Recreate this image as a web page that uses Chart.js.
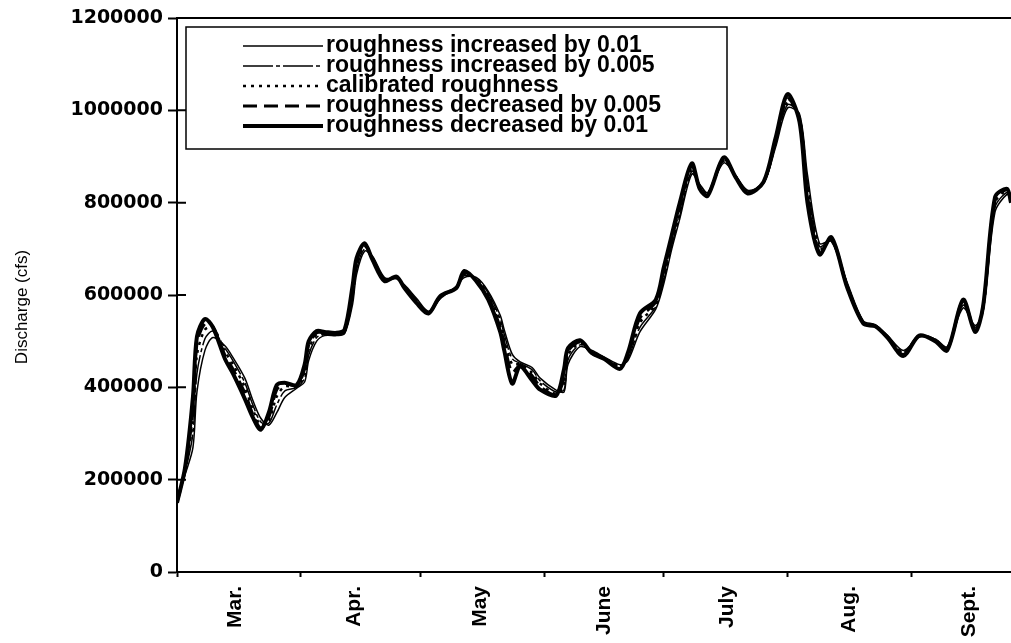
<!DOCTYPE html>
<html>
<head>
<meta charset="utf-8">
<script src="https://cdn.jsdelivr.net/npm/chart.js@4.4.0/dist/chart.umd.min.js"></script>
<style>
  html, body { margin: 0; padding: 0; background: #fff; }
</style>
</head>
<body>
<canvas id="chart" width="1011" height="643"></canvas>
<script>
// days counted from March 1
const days = [0, 2, 4, 5, 7, 9, 12, 14, 17, 19,
  21, 23, 25, 27, 30, 32, 33, 35, 37, 40,
  42, 44, 45, 47, 49, 52, 55, 57, 60, 63,
  66, 70, 72, 75, 78, 81, 82, 84, 86, 89,
  91, 95, 97, 98, 101, 104, 107, 111, 113, 116,
  120, 122, 124, 126, 129, 131, 133, 137, 140, 143,
  147, 150, 153, 156, 158, 161, 164, 168, 172, 175,
  178, 182, 186, 190, 193, 197, 200, 202, 205, 208,
  209];

const incr01 = [150000, 210000, 270000, 390000, 480000, 508000, 490000, 465000, 420000, 372000,
  333000, 318000, 345000, 378000, 398000, 412000, 458000, 500000, 512000, 512000,
  516000, 580000, 645000, 695000, 684000, 638000, 635000, 622000, 593000, 565000,
  592000, 619000, 638000, 638000, 608000, 556000, 525000, 472000, 455000, 443000,
  420000, 394000, 390000, 450000, 488000, 480000, 466000, 449000, 458000, 520000,
  570000, 625000, 700000, 765000, 862000, 840000, 822000, 886000, 859000, 827000,
  842000, 920000, 1005000, 992000, 860000, 712000, 716000, 626000, 544000, 536000,
  513000, 480000, 509000, 505000, 488000, 572000, 534000, 564000, 780000, 818000,
  808000];

const incr005 = [150000, 215000, 300000, 430000, 505000, 522000, 485000, 458000, 410000, 362000,
  325000, 322000, 362000, 392000, 400000, 420000, 470000, 508000, 514000, 514000,
  518000, 590000, 655000, 700000, 682000, 636000, 636000, 620000, 590000, 563000,
  594000, 618000, 642000, 636000, 604000, 548000, 515000, 462000, 452000, 438000,
  414000, 390000, 395000, 460000, 492000, 478000, 465000, 447000, 462000, 530000,
  575000, 632000, 708000, 772000, 868000, 838000, 820000, 890000, 858000, 825000,
  843000, 925000, 1012000, 990000, 845000, 705000, 718000, 623000, 542000, 535000,
  512000, 477000, 510000, 504000, 486000, 578000, 530000, 568000, 790000, 822000,
  805000];

const calibrated = [150000, 220000, 330000, 470000, 525000, 530000, 478000, 450000, 400000, 352000,
  318000, 328000, 380000, 402000, 402000, 430000, 482000, 514000, 516000, 515000,
  520000, 600000, 665000, 705000, 680000, 634000, 637000, 618000, 587000, 562000,
  596000, 617000, 645000, 634000, 600000, 540000, 505000, 450000, 450000, 432000,
  408000, 386000, 405000, 470000, 495000, 476000, 464000, 445000, 466000, 540000,
  580000, 640000, 715000, 780000, 875000, 835000, 818000, 893000, 857000, 823000,
  844000, 930000, 1018000, 985000, 830000, 698000, 720000, 620000, 540000, 534000,
  510000, 474000, 511000, 503000, 484000, 584000, 526000, 572000, 800000, 826000,
  802000];

const decr005 = [150000, 222000, 350000, 495000, 538000, 532000, 470000, 440000, 388000, 342000,
  312000, 335000, 395000, 408000, 404000, 440000, 492000, 518000, 518000, 516000,
  522000, 610000, 672000, 708000, 678000, 632000, 638000, 617000, 585000, 561000,
  597000, 616000, 648000, 632000, 596000, 530000, 495000, 432000, 448000, 425000,
  402000, 384000, 420000, 478000, 498000, 474000, 463000, 443000, 470000, 550000,
  585000, 650000, 722000, 790000, 880000, 832000, 817000, 896000, 856000, 822000,
  845000, 935000, 1025000, 980000, 815000, 692000, 723000, 617000, 539000, 533000,
  509000, 471000, 512000, 502000, 482000, 588000, 523000, 574000, 806000, 828000,
  800000];

const decr01 = [150000, 225000, 380000, 510000, 548000, 530000, 462000, 430000, 375000, 335000,
  308000, 345000, 405000, 410000, 405000, 450000, 500000, 522000, 520000, 518000,
  525000, 620000, 680000, 712000, 676000, 630000, 640000, 615000, 583000, 560000,
  598000, 615000, 652000, 630000, 590000, 520000, 480000, 408000, 445000, 415000,
  395000, 382000, 440000, 485000, 502000, 474000, 462000, 440000, 475000, 560000,
  590000, 660000, 730000, 800000, 885000, 830000, 815000, 898000, 855000, 820000,
  845000, 940000, 1035000, 975000, 800000, 688000, 725000, 615000, 538000, 532000,
  508000, 468000, 512000, 500000, 480000, 590000, 520000, 575000, 812000, 830000,
  800000];

const months = ["Mar.", "Apr.", "May", "June", "July", "Aug.", "Sept."];
const monthStarts = [0, 31, 61, 92, 122, 153, 184];
const monthLabelAt = [14.5, 44.5, 76, 107, 138, 168.5, 198.5];

const yTicks = [0, 200000, 400000, 600000, 800000, 1000000, 1200000];

function series(label, values, width, dash) {
  return {
    label: label,
    data: days.map((d, i) => ({ x: d, y: values[i] })),
    borderColor: "#000",
    borderWidth: width,
    borderDash: dash,
    pointRadius: 0,
    tension: 0.3,
    fill: false,
  };
}

const frame = {
  id: "frame",
  afterDraw(chart) {
    const ctx = chart.ctx;
    const a = chart.chartArea;
    const y = chart.scales.y;
    ctx.save();
    ctx.strokeStyle = "#000";
    ctx.lineWidth = 2;
    ctx.beginPath();
    ctx.moveTo(a.left, a.top);
    ctx.lineTo(a.right, a.top);
    // y ticks cross the axis
    yTicks.forEach((v) => {
      const py = y.getPixelForValue(v);
      ctx.moveTo(a.left, py);
      ctx.lineTo(a.left + 9, py);
    });
    ctx.stroke();

    // y title
    ctx.save();
    ctx.translate(22, 307);
    ctx.rotate(-Math.PI / 2);
    ctx.font = "17px 'Liberation Sans'";
    ctx.fillStyle = "#000";
    ctx.textAlign = "center";
    ctx.textBaseline = "middle";
    ctx.fillText("Discharge (cfs)", 0, 0);
    ctx.restore();

    // legend box
    ctx.lineWidth = 1.5;
    ctx.strokeRect(186, 27, 541, 122);
    ctx.font = "bold 23px 'Liberation Sans'";
    ctx.fillStyle = "#000";
    ctx.textBaseline = "middle";
    chart.data.datasets.forEach((ds, i) => {
      const ly = 46 + i * 20;
      ctx.beginPath();
      ctx.setLineDash(ds.borderDash || []);
      ctx.lineWidth = ds.borderWidth;
      ctx.moveTo(243, ly);
      ctx.lineTo(323, ly);
      ctx.stroke();
      ctx.setLineDash([]);
      ctx.fillText(ds.label, 326, ly);
    });
    ctx.restore();
  },
};

new Chart(document.getElementById("chart"), {
  type: "line",
  data: {
    datasets: [
      series("roughness increased by 0.01", incr01, 1.5, []),
      series("roughness increased by 0.005", incr005, 1.5, [30, 3, 4, 3]),
      series("calibrated roughness", calibrated, 2.5, [3, 5]),
      series("roughness decreased by 0.005", decr005, 3, [14, 7]),
      series("roughness decreased by 0.01", decr01, 4, []),
    ],
  },
  options: {
    responsive: false,
    devicePixelRatio: 1,
    animation: false,
    layout: { padding: { top: 18, right: 0, left: 0, bottom: 0 } },
    plugins: {
      legend: { display: false },
      tooltip: { enabled: false },
    },
    scales: {
      x: {
        type: "linear",
        min: 0,
        max: 209,
        afterBuildTicks: (ax) => {
          ax.ticks = monthStarts.concat(monthLabelAt).map((v) => ({ value: v }));
        },
        afterFit: (s) => { s.height = 71; },
        ticks: {
          autoSkip: false,
          minRotation: 90,
          maxRotation: 90,
          padding: 9,
          color: "#000",
          font: { family: "Liberation Sans", weight: "bold", size: 21 },
          callback: (v) => {
            const i = monthLabelAt.indexOf(v);
            return i >= 0 ? months[i] : "";
          },
        },
        grid: {
          drawOnChartArea: false,
          tickLength: 5,
          tickWidth: 2,
          tickColor: (c) => (c.tick && monthLabelAt.includes(c.tick.value) ? "rgba(0,0,0,0)" : "#000"),
        },
        border: { color: "#000", width: 2 },
      },
      y: {
        min: 0,
        max: 1200000,
        afterBuildTicks: (ax) => {
          ax.ticks = yTicks.map((v) => ({ value: v }));
        },
        afterFit: (s) => { s.width = 177; },
        ticks: {
          padding: 5,
          color: "#000",
          font: { family: "DejaVu Sans", weight: "bold", size: 19 },
          callback: (v) => String(v),
        },
        grid: {
          drawOnChartArea: false,
          tickLength: 9,
          tickWidth: 2,
          tickColor: "#000",
        },
        border: { color: "#000", width: 2 },
      },
    },
  },
  plugins: [frame],
});
</script>
</body>
</html>
